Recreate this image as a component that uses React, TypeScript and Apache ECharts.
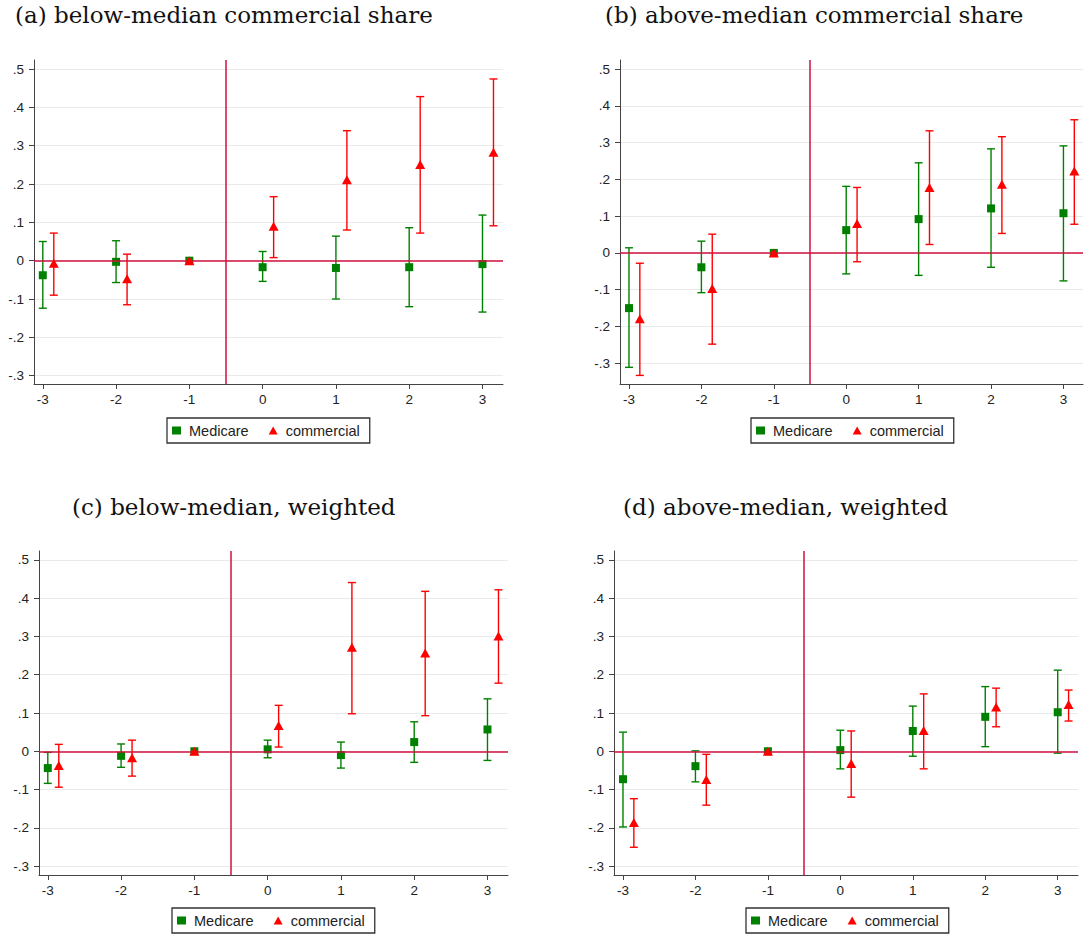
import React, { useEffect, useRef } from "react";
import * as echarts from "echarts";

// event time (years relative to treatment)
const years = [-3, -2, -1, 0, 1, 2, 3];
const yTicks = [-0.3, -0.2, -0.1, 0, 0.1, 0.2, 0.3, 0.4, 0.5];
const seriesNames = ["Medicare", "commercial"];
const titles = [
  "(a) below-median commercial share",
  "(b) above-median commercial share",
  "(c) below-median, weighted",
  "(d) above-median, weighted",
];

// (a) below-median commercial share
const aMedEst = [-0.038, -0.003, 0, -0.017, -0.019, -0.017, -0.009];
const aMedLo = [-0.124, -0.057, 0, -0.054, -0.1, -0.12, -0.134];
const aMedHi = [0.05, 0.052, 0, 0.024, 0.064, 0.086, 0.119];
const aComEst = [-0.007, -0.047, 0, 0.09, 0.211, 0.251, 0.283];
const aComLo = [-0.09, -0.115, 0, 0.008, 0.08, 0.072, 0.091];
const aComHi = [0.072, 0.017, 0, 0.167, 0.339, 0.428, 0.474];

// (b) above-median commercial share
const bMedEst = [-0.15, -0.039, 0, 0.062, 0.092, 0.121, 0.108];
const bMedLo = [-0.311, -0.108, 0, -0.057, -0.061, -0.039, -0.076];
const bMedHi = [0.014, 0.032, 0, 0.181, 0.245, 0.283, 0.291];
const bComEst = [-0.179, -0.097, 0, 0.08, 0.178, 0.187, 0.223];
const bComLo = [-0.333, -0.248, 0, -0.024, 0.023, 0.053, 0.078];
const bComHi = [-0.028, 0.051, 0, 0.178, 0.332, 0.316, 0.362];

// (c) below-median, weighted
const cMedEst = [-0.044, -0.012, 0, 0.005, -0.01, 0.024, 0.057];
const cMedLo = [-0.084, -0.042, 0, -0.017, -0.044, -0.029, -0.024];
const cMedHi = [-0.003, 0.019, 0, 0.029, 0.024, 0.077, 0.137];
const cComEst = [-0.037, -0.017, 0, 0.067, 0.272, 0.257, 0.301];
const cComLo = [-0.094, -0.065, 0, 0.011, 0.098, 0.093, 0.178];
const cComHi = [0.018, 0.029, 0, 0.12, 0.441, 0.418, 0.422];

// (d) above-median, weighted
const dMedEst = [-0.073, -0.039, 0, 0.003, 0.053, 0.09, 0.102];
const dMedLo = [-0.198, -0.08, 0, -0.046, -0.013, 0.012, -0.005];
const dMedHi = [0.05, 0.001, 0, 0.055, 0.118, 0.169, 0.212];
const dComEst = [-0.186, -0.074, 0, -0.032, 0.054, 0.116, 0.122];
const dComLo = [-0.251, -0.141, 0, -0.12, -0.046, 0.064, 0.079];
const dComHi = [-0.124, -0.008, 0, 0.053, 0.15, 0.165, 0.16];

const GREEN = "#008000";
const RED = "#ff0000";
const REF = "#d0103f";
const AXIS = "#444";
const SANS = "'Liberation Sans', Arial, sans-serif";
const SERIF = "'DejaVu Serif', serif";

const panelData = [
  { med: [aMedEst, aMedLo, aMedHi], com: [aComEst, aComLo, aComHi] },
  { med: [bMedEst, bMedLo, bMedHi], com: [bComEst, bComLo, bComHi] },
  { med: [cMedEst, cMedLo, cMedHi], com: [cComEst, cComLo, cComHi] },
  { med: [dMedEst, dMedLo, dMedHi], com: [dComEst, dComLo, dComHi] },
];

const layout = [
  { grid: { left: 34, top: 60, width: 469, height: 324 }, x: [-3.12, 3.28], y: [-0.3217, 0.5235], title: [15, 3], legend: [167, 418] },
  { grid: { left: 620, top: 60, width: 463, height: 324 }, x: [-3.124, 3.27], y: [-0.3563, 0.5245], title: [605, 3], legend: [751, 418] },
  { grid: { left: 39, top: 551, width: 469, height: 324 }, x: [-3.12, 3.28], y: [-0.3235, 0.5235], title: [72, 495], legend: [172, 908] },
  { grid: { left: 614, top: 551, width: 464, height: 324 }, x: [-3.124, 3.28], y: [-0.3235, 0.5235], title: [623, 495], legend: [746, 908] },
];

// commercial markers are shifted right, except the omitted reference year
const comShift = (t: number) => (t === -1 ? 0 : 0.15);

function fmtY(v: number) {
  if (Math.abs(v) < 1e-9) return "0";
  const s = v.toFixed(1);
  return s.replace("0.", ".");
}

function makeErrorSeries(idx: number, name: string, xs: number[], lo: number[], hi: number[], color: string) {
  return {
    type: "custom",
    name,
    xAxisIndex: idx,
    yAxisIndex: idx,
    z: 3,
    silent: true,
    encode: { x: 0, y: [1, 2] },
    data: xs.map((x, i) => [x, lo[i], hi[i]]),
    renderItem: (params: any, api: any) => {
      const x = api.value(0);
      const l = api.value(1);
      const h = api.value(2);
      if (l === h) return null;
      const p1 = api.coord([x, l]);
      const p2 = api.coord([x, h]);
      const hw = 4;
      const st = { stroke: color, lineWidth: 1.4 };
      return {
        type: "group",
        children: [
          { type: "line", shape: { x1: p1[0], y1: p1[1], x2: p2[0], y2: p2[1] }, style: st },
          { type: "line", shape: { x1: p1[0] - hw, y1: p1[1], x2: p1[0] + hw, y2: p1[1] }, style: st },
          { type: "line", shape: { x1: p2[0] - hw, y1: p2[1], x2: p2[0] + hw, y2: p2[1] }, style: st },
        ],
      };
    },
  };
}

function buildOption() {
  const grid: any[] = [];
  const xAxis: any[] = [];
  const yAxis: any[] = [];
  const series: any[] = [];
  const title: any[] = [];
  const legend: any[] = [];

  layout.forEach((L, idx) => {
    grid.push({ ...L.grid });
    xAxis.push({
      type: "value",
      gridIndex: idx,
      min: L.x[0],
      max: L.x[1],
      axisLine: { show: true, onZero: false, lineStyle: { color: AXIS, width: 1 } },
      axisTick: { show: true, length: 5, lineStyle: { color: AXIS }, customValues: years },
      axisLabel: { customValues: years, color: "#222", fontFamily: SANS, fontSize: 13.5, margin: 8, formatter: (v: number) => String(v) },
      splitLine: { show: false },
    });
    yAxis.push({
      type: "value",
      gridIndex: idx,
      min: L.y[0],
      max: L.y[1],
      axisLine: { show: true, onZero: false, lineStyle: { color: AXIS, width: 1 } },
      axisTick: { show: true, length: 5, lineStyle: { color: AXIS }, customValues: yTicks },
      axisLabel: { customValues: yTicks, color: "#222", fontFamily: SANS, fontSize: 13.5, margin: 10, formatter: fmtY },
      splitLine: { show: true, lineStyle: { color: "#eaeaea", width: 1.2 } },
    });
    title.push({
      text: titles[idx],
      left: L.title[0],
      top: L.title[1],
      padding: 0,
      textStyle: { fontFamily: SERIF, fontWeight: "normal", fontSize: 23, color: "#111" },
    });
    legend.push({
      left: L.legend[0],
      top: L.legend[1],
      orient: "horizontal",
      padding: [5, 10, 5, 5],
      borderColor: "#333",
      borderWidth: 1.3,
      backgroundColor: "#fff",
      itemGap: 20,
      itemWidth: 9,
      itemHeight: 8,
      selectedMode: false,
      textStyle: { fontFamily: SANS, fontSize: 14.5, color: "#222", padding: [0, 0, 0, 3] },
      data: [
        { name: seriesNames[0], icon: "rect" },
        { name: seriesNames[1], icon: "triangle" },
      ],
    });

    const d = panelData[idx];
    const xsMed = years.map((t) => t);
    const xsCom = years.map((t) => t + comShift(t));

    // reference lines
    series.push({
      type: "line",
      name: "ref" + idx,
      xAxisIndex: idx,
      yAxisIndex: idx,
      data: [],
      silent: true,
      z: 2,
      markLine: {
        silent: true,
        symbol: "none",
        label: { show: false },
        lineStyle: { color: REF, width: 1.5, type: "solid" },
        data: [{ xAxis: -0.5 }, { yAxis: 0 }],
      },
    });

    series.push(makeErrorSeries(idx, "Medicare CI", xsMed, d.med[1], d.med[2], GREEN));
    series.push(makeErrorSeries(idx, "commercial CI", xsCom, d.com[1], d.com[2], RED));

    series.push({
      type: "scatter",
      name: seriesNames[0],
      xAxisIndex: idx,
      yAxisIndex: idx,
      symbol: "rect",
      symbolSize: 8,
      z: 4,
      itemStyle: { color: GREEN, opacity: 1 },
      data: xsMed.map((x, i) => [x, d.med[0][i]]),
    });
    series.push({
      type: "scatter",
      name: seriesNames[1],
      xAxisIndex: idx,
      yAxisIndex: idx,
      symbol: "triangle",
      symbolSize: [10, 9],
      z: 5,
      itemStyle: { color: RED, opacity: 1 },
      data: xsCom.map((x, i) => [x, d.com[0][i]]),
    });
  });

  return {
    animation: false,
    backgroundColor: "#fff",
    title,
    legend,
    grid,
    xAxis,
    yAxis,
    series,
  };
}

export default function App() {
  const ref = useRef<HTMLDivElement>(null);
  useEffect(() => {
    document.body.style.margin = "0";
    if (!ref.current) return;
    const chart = echarts.init(ref.current, undefined, { renderer: "svg" });
    chart.setOption(buildOption() as any);
    return () => chart.dispose();
  }, []);
  return <div ref={ref} style={{ width: 1089, height: 936, background: "#fff" }} />;
}
